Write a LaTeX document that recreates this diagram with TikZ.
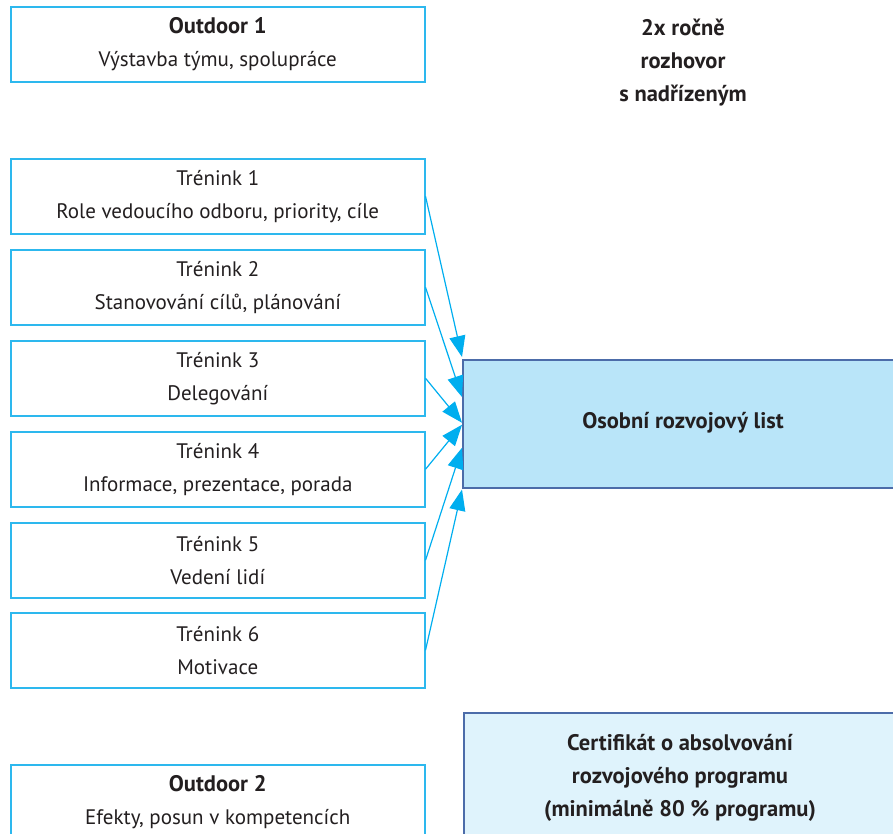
\documentclass[tikz,border=0pt]{standalone}
\usepackage{fontspec}
\setmainfont{PT Sans}
\usetikzlibrary{arrows.meta,calc}
\definecolor{cyanline}{HTML}{2DB8EE}
\definecolor{arrowc}{HTML}{00AEEF}
\definecolor{darkedge}{HTML}{4C6CA9}
\definecolor{osfill}{HTML}{B9E5F9}
\definecolor{certfill}{HTML}{DFF3FC}
\definecolor{txt}{HTML}{231F20}
\newcommand{\bfs}{\fontsize{22.5}{33}\selectfont\bfseries}
\tikzset{
  every node/.style={font=\fontsize{21}{33}\selectfont, text=txt},
  box/.style={draw=cyanline, line width=1.5pt, fill=white, minimum width=414pt, minimum height=75pt, anchor=north west, align=center, inner sep=0pt},
  bigbox/.style={draw=darkedge, line width=1.5pt, minimum width=440pt, minimum height=128pt, anchor=north west, align=center, inner sep=0pt},
  arr/.style={draw=arrowc, line width=1.2pt, -{Triangle[length=21pt,width=16pt]}},
}
\begin{document}
\begin{tikzpicture}[x=1pt,y=-1pt]
\useasboundingbox (0,0) rectangle (893,833);
\node[box] (o1) at (10,6) {{\bfs Outdoor 1}\\Výstavba týmu, spolupráce};
\node[box] (t1) at (10,158) {Trénink 1\\Role vedoucího odboru, priority, cíle};
\node[box] (t2) at (10,249) {Trénink 2\\Stanovování cílů, plánování};
\node[box] (t3) at (10,340) {Trénink 3\\Delegování};
\node[box] (t4) at (10,431) {Trénink 4\\Informace, prezentace, porada};
\node[box] (t5) at (10,522) {Trénink 5\\Vedení lidí};
\node[box] (t6) at (10,612) {Trénink 6\\Motivace};
\node[box] (o2) at (10,764) {{\bfs Outdoor 2}\\Efekty, posun v kompetencích};
\node[font=\bfs, align=center] (roz) at (683,63) {2x ročně\\rozhovor\\s nadřízeným};
\node[bigbox, fill=osfill] (os) at (462,359) {};
\node[font=\bfs] (ostxt) at (683,423) {Osobní rozvojový list};
\node[bigbox, fill=certfill] (cert) at (463,712) {};
\node[font=\bfs, align=center] (certtxt) at (680,778) {Certifikát o absolvování\\rozvojového programu\\(minimálně 80 \% programu)};
\coordinate (e1) at ($(os.north west)+(0,-2)$);
\coordinate (e2) at ($(os.north west)+(0,38)$);
\coordinate (e3) at ($(os.west)+(0,-1)$);
\coordinate (e4) at ($(os.west)+(0,1)$);
\coordinate (e5) at ($(os.west)+(0,24)$);
\coordinate (e6) at ($(os.south west)+(0,1)$);
\draw[arr] (t1.east) -- (e1);
\draw[arr] (t2.east) -- (e2);
\draw[arr] (t3.east) -- (e3);
\draw[arr] (t4.east) -- (e4);
\draw[arr] (t5.east) -- (e5);
\draw[arr] (t6.east) -- (e6);
\end{tikzpicture}
\end{document}
